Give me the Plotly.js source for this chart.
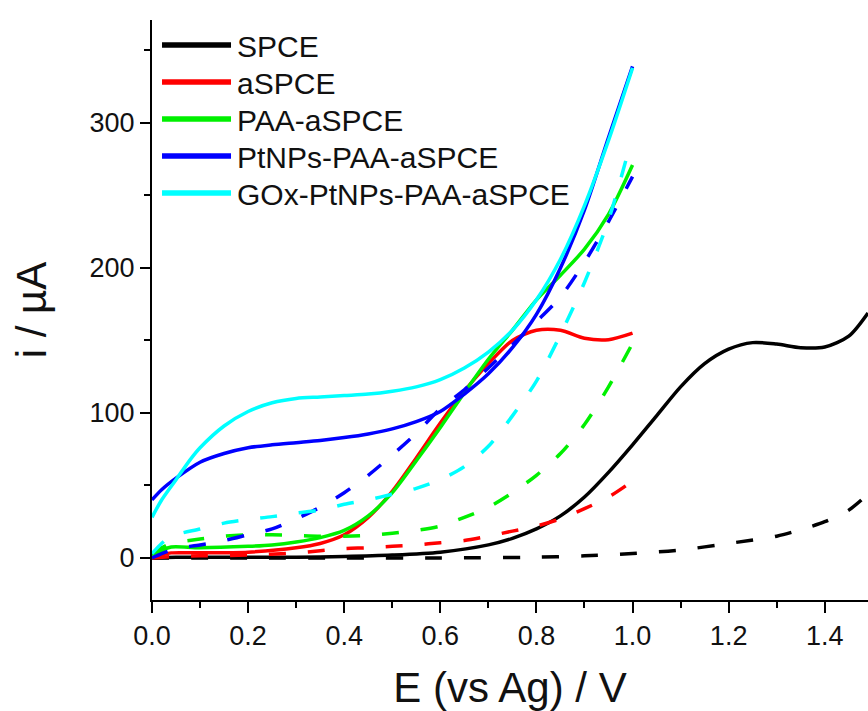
<!DOCTYPE html>
<html>
<head>
<meta charset="utf-8">
<script src="https://cdn.plot.ly/plotly-3.0.1.min.js"></script>
<style>html,body{margin:0;padding:0;background:#fff;}#chart{width:868px;height:711px;}</style>
</head>
<body>
<div id="chart"></div>
<script>
// Series names
const names = ["SPCE", "aSPCE", "PAA-aSPCE", "PtNPs-PAA-aSPCE", "GOx-PtNPs-PAA-aSPCE"];
const colors = ["#000000", "#ff0000", "#00f000", "#0000ff", "#00ffff"];

// SPCE
const spceSolidE = [0, 0.05, 0.1, 0.2, 0.3, 0.4, 0.5, 0.6, 0.7, 0.75, 0.8, 0.85, 0.9, 0.95, 1.0, 1.05, 1.1, 1.15, 1.2, 1.25, 1.3, 1.35, 1.4, 1.45, 1.49];
const spceSolidI = [0, 0.5, 0.5, 0.5, 0.5, 1, 2, 4, 9, 13.5, 20, 29, 42, 59, 78, 98, 118, 134, 144, 148.5, 147.5, 145, 145.5, 153, 169];
const spceDashE = [0, 0.2, 0.4, 0.6, 0.8, 0.9, 1.0, 1.1, 1.2, 1.3, 1.35, 1.4, 1.45, 1.49];
const spceDashI = [0, 0, 0, 0, 0.5, 1.5, 3, 5.5, 10, 15, 19.5, 25, 33, 44];

// aSPCE
const aSolidE = [0, 0.02, 0.04, 0.1, 0.2, 0.3, 0.35, 0.4, 0.45, 0.5, 0.55, 0.6, 0.65, 0.7, 0.75, 0.8, 0.85, 0.9, 0.95, 1.0];
const aSolidI = [0, 2, 3.5, 3.5, 4, 7, 10, 16, 28, 46, 69, 93, 115, 134, 150, 157, 157, 151.5, 150.5, 155];
const aDashE = [0, 0.05, 0.1, 0.2, 0.3, 0.35, 0.4, 0.45, 0.5, 0.55, 0.6, 0.65, 0.7, 0.75, 0.8, 0.85, 0.9, 0.95, 1.0];
const aDashI = [0, 1, 1.5, 2, 3.5, 5, 6.5, 7, 8, 9, 10.5, 12, 15, 18.5, 22, 27, 34, 42, 53];

// PAA-aSPCE
const paaSolidE = [0, 0.02, 0.04, 0.1, 0.2, 0.25, 0.3, 0.35, 0.4, 0.45, 0.5, 0.55, 0.6, 0.65, 0.7, 0.75, 0.8, 0.85, 0.9, 0.95, 1.0];
const paaSolidI = [0, 5, 7.5, 7, 8, 9, 11, 14, 19, 29, 45, 67, 90, 114, 137, 157, 178, 195, 213, 237, 271];
const paaDashE = [0, 0.02, 0.04, 0.1, 0.15, 0.2, 0.25, 0.3, 0.35, 0.4, 0.45, 0.5, 0.55, 0.6, 0.65, 0.7, 0.75, 0.8, 0.85, 0.9, 0.95, 1.0];
const paaDashI = [2, 7, 10, 13, 15, 16, 16, 15.5, 15, 15, 15.5, 17, 19, 22, 28, 35, 45, 57, 72, 92, 118, 148];

// PtNPs-PAA-aSPCE
const ptSolidE = [0, 0.02, 0.05, 0.1, 0.15, 0.2, 0.25, 0.3, 0.35, 0.4, 0.45, 0.5, 0.55, 0.6, 0.65, 0.7, 0.75, 0.8, 0.85, 0.9, 0.95, 1.0];
const ptSolidI = [40, 47, 55, 66, 72, 76, 78, 79.5, 81, 83, 85.5, 89, 94, 101, 113, 127, 145, 168, 200, 240, 290, 339];
const ptDashE = [0, 0.02, 0.05, 0.1, 0.15, 0.2, 0.25, 0.3, 0.35, 0.4, 0.45, 0.5, 0.55, 0.6, 0.65, 0.7, 0.75, 0.8, 0.85, 0.9, 0.95, 1.0];
const ptDashI = [0, 3, 6.5, 9, 12, 16, 20, 27, 35, 45, 57, 71, 86, 103, 116, 131, 147, 163, 180, 204, 232, 263];

// GOx-PtNPs-PAA-aSPCE
const goxSolidE = [0, 0.02, 0.05, 0.08, 0.1, 0.15, 0.2, 0.25, 0.3, 0.35, 0.4, 0.45, 0.5, 0.55, 0.6, 0.65, 0.7, 0.75, 0.8, 0.85, 0.9, 0.95, 1.0];
const goxSolidI = [28, 40, 54, 68, 76, 91, 101, 107, 110, 111, 112, 113, 115, 118, 123, 131, 142, 157, 178, 206, 243, 288, 338];
const goxDashE = [0, 0.02, 0.04, 0.1, 0.15, 0.2, 0.25, 0.3, 0.35, 0.4, 0.45, 0.5, 0.55, 0.6, 0.65, 0.7, 0.75, 0.8, 0.85, 0.9, 0.95, 0.995];
const goxDashI = [3, 10, 15, 20, 24, 26.5, 28.5, 31, 33, 37, 40, 44, 48, 54, 63, 77, 98, 122, 154, 190, 233, 285];

// Tick steps
const xTickStep = 0.2, xMinorStep = 0.1;
const yTickStep = 100, yMinorStep = 50;

const solidE = [spceSolidE, aSolidE, paaSolidE, ptSolidE, goxSolidE];
const solidI = [spceSolidI, aSolidI, paaSolidI, ptSolidI, goxSolidI];
const dashE = [spceDashE, aDashE, paaDashE, ptDashE, goxDashE];
const dashI = [spceDashI, aDashI, paaDashI, ptDashI, goxDashI];

const FONT = "Liberation Sans, Arial, Helvetica, sans-serif";
const traces = [];
for (let k = 0; k < names.length; k++) {
  traces.push({
    type: "scatter", mode: "lines", name: names[k],
    x: solidE[k], y: solidI[k],
    line: {color: colors[k], width: 3.5, shape: "spline", smoothing: 0.8},
    showlegend: true, hoverinfo: "skip"
  });
  traces.push({
    type: "scatter", mode: "lines", name: names[k] + " (dashed)",
    x: dashE[k], y: dashI[k],
    line: {color: colors[k], width: 3.5, shape: "spline", smoothing: 0.8, dash: "17px,22px"},
    showlegend: false, hoverinfo: "skip"
  });
}

const layout = {
  width: 868, height: 711,
  margin: {l: 152, r: 0, t: 20, b: 111, pad: 0},
  paper_bgcolor: "#ffffff", plot_bgcolor: "#ffffff",
  font: {family: FONT, color: "#111111"},
  showlegend: true,
  legend: {
    x: 0.007, y: 1, xanchor: "left", yanchor: "top",
    bgcolor: "rgba(0,0,0,0)", borderwidth: 0,
    font: {family: FONT, size: 30, color: "#111111"},
    itemwidth: 70, tracegroupgap: 0
  },
  xaxis: {
    range: [0, 1.49], tick0: 0, dtick: xTickStep, tickformat: ".1f",
    ticks: "outside", ticklen: 11, tickwidth: 2, tickcolor: "#000",
    minor: {dtick: xMinorStep, ticks: "outside", ticklen: 6, tickwidth: 2, tickcolor: "#000", showgrid: false},
    showline: true, linewidth: 2, linecolor: "#000", mirror: false,
    showgrid: false, zeroline: false,
    tickfont: {family: FONT, size: 27, color: "#111111"},
    title: {text: "E (vs Ag) / V", font: {family: FONT, size: 42, color: "#111111"}, standoff: 22}
  },
  yaxis: {
    range: [-29, 371], tick0: 0, dtick: yTickStep,
    ticks: "outside", ticklen: 10, tickwidth: 2, tickcolor: "#000",
    minor: {dtick: yMinorStep, ticks: "outside", ticklen: 6, tickwidth: 2, tickcolor: "#000", showgrid: false},
    showline: true, linewidth: 2, linecolor: "#000", mirror: false,
    showgrid: false, zeroline: false,
    tickfont: {family: FONT, size: 27, color: "#111111"},
    title: {text: "i / µA", font: {family: FONT, size: 42, color: "#111111"}, standoff: 30}
  }
};

Plotly.newPlot("chart", traces, layout, {staticPlot: true, displayModeBar: false}).then(function () {
  // Longer, thicker legend line samples and tighter row spacing, as in the original figure
  const firstRow = 45, rowStep = 37;
  const items = document.querySelectorAll(".legend g.traces");
  items.forEach(function (g, k) {
    const p = g.querySelector("path.js-line");
    if (p) {
      p.setAttribute("d", "M5,0h69");
      p.style.strokeWidth = "5.5px";
      p.style.strokeDasharray = "";
    }
    const tr = g.getAttribute("transform") || "";
    const m = tr.match(/translate\(\s*([-\d.e]+)[ ,]+([-\d.e]+)\s*\)/);
    if (m && p) {
      const r = p.getBoundingClientRect();
      const cy = r.top + r.height / 2;
      const target = firstRow + k * rowStep;
      const ny = parseFloat(m[2]) + (target - cy);
      g.setAttribute("transform", "translate(" + m[1] + "," + ny + ")");
    }
  });
});
</script>
</body>
</html>
